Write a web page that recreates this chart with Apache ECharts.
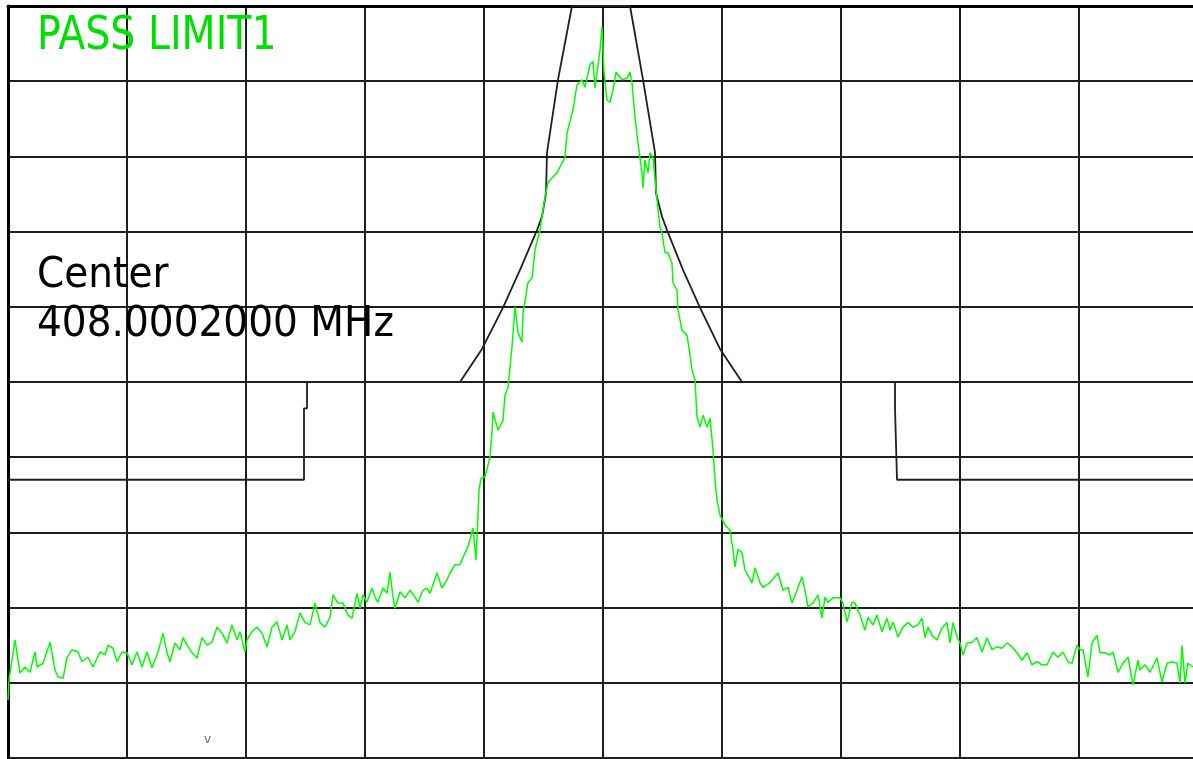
<!DOCTYPE html>
<html>
<head>
<meta charset="utf-8">
<title>PASS LIMIT1</title>
<script src="https://cdn.jsdelivr.net/npm/echarts@6/dist/echarts.min.js"></script>
<style>
html, body { margin: 0; padding: 0; background: #fff; }
#chart { width: 1193px; height: 759px; }
</style>
</head>
<body>
<div id="chart"></div>
<script>
// sweep points across the screen (119 points / div), level in dB (10 dB / div, ref 0 at top)
var traceBins = [0,1,7,12,17,22,27,29,35,42,47,50,55,59,64,70,74,80,85,92,97,100,105,109,114,119,124,129,134,139,144,150,155,159,162,167,172,175,180,184,189,194,199,204,209,214,219,224,229,232,237,239,244,249,254,259,264,269,274,279,282,287,292,297,302,307,312,317,322,325,330,335,340,344,349,352,355,359,364,367,370,375,379,382,385,387,392,397,402,407,410,415,419,422,429,434,439,442,447,452,455,460,465,468,471,473,477,482,484,485,490,495,497,500,504,507,510,514,515,520,524,527,532,537,540,545,549,557,559,565,569,574,577,582,585,587,592,594,595,596,599,602,605,608,614,619,622,624,627,630,634,635,637,640,642,645,649,652,654,657,660,664,665,669,670,674,679,682,684,687,689,692,695,699,702,705,707,709,712,717,722,725,727,730,734,737,744,747,752,755,762,770,775,780,784,789,794,797,800,805,810,814,817,820,825,832,835,839,844,847,852,857,860,865,869,874,879,882,885,890,895,900,905,910,914,917,920,924,929,934,939,942,945,949,952,955,959,964,969,974,979,984,989,994,999,1004,1009,1014,1019,1024,1029,1034,1039,1045,1050,1055,1060,1064,1069,1072,1075,1080,1084,1089,1092,1097,1102,1105,1110,1115,1120,1125,1130,1132,1137,1142,1149,1154,1159,1164,1169,1172,1174,1177,1180,1185];
var traceLevels = [-92.3,-89.6,-84.3,-88.7,-87.9,-88.6,-85.9,-87.9,-87.4,-84.6,-88.3,-89.2,-89.4,-86.7,-85.6,-85.9,-87.2,-86.6,-87.9,-85.9,-86.3,-85.0,-85.4,-87.2,-85.9,-86.0,-87.6,-85.9,-87.9,-85.9,-88.0,-85.9,-83.4,-86.0,-87.2,-84.7,-85.6,-84.0,-85.2,-86.0,-86.7,-84.0,-85.0,-84.6,-82.6,-83.4,-84.7,-82.3,-84.3,-83.2,-85.9,-84.3,-83.2,-82.6,-83.4,-85.2,-82.6,-81.9,-84.3,-82.3,-84.3,-83.2,-80.7,-82.0,-82.3,-79.4,-82.0,-82.6,-81.3,-78.3,-79.4,-79.4,-81.0,-81.4,-78.1,-80.1,-78.3,-79.3,-77.4,-78.6,-79.3,-77.4,-78.1,-75.3,-78.6,-80.1,-77.9,-78.7,-77.7,-78.6,-79.3,-77.7,-77.4,-78.1,-75.4,-77.4,-76.3,-75.4,-74.3,-74.3,-73.3,-71.9,-69.4,-73.7,-64.4,-62.8,-62.6,-60.0,-56.7,-54.0,-56.4,-55.1,-51.7,-50.8,-45.3,-40.0,-43.4,-44.7,-40.8,-36.8,-36.2,-32.4,-29.8,-25.4,-23.5,-22.7,-22.2,-20.1,-16.9,-13.8,-10.5,-9.8,-10.8,-7.8,-7.4,-10.9,-5.9,-2.8,-5.6,-8.8,-12.5,-12.8,-11.2,-8.8,-9.8,-9.6,-8.8,-10.2,-14.8,-18.2,-22.2,-24.2,-20.5,-22.2,-19.5,-20.2,-25.8,-29.4,-30.2,-32.8,-32.8,-34.2,-36.8,-37.8,-40.4,-43.1,-43.8,-46.4,-48.4,-49.7,-54.7,-56.0,-54.4,-56.0,-54.8,-59.0,-63.0,-65.7,-67.7,-69.0,-69.7,-72.3,-74.6,-72.3,-72.7,-75.0,-76.7,-74.7,-76.7,-77.3,-76.7,-75.4,-77.7,-77.3,-79.4,-77.7,-75.9,-77.7,-79.9,-79.4,-78.3,-81.4,-78.6,-79.3,-78.7,-78.7,-79.4,-81.9,-79.3,-79.4,-81.0,-83.0,-81.3,-82.3,-81.0,-83.2,-81.4,-83.0,-81.9,-83.9,-82.6,-82.0,-82.6,-82.3,-81.4,-84.0,-82.6,-83.7,-84.3,-82.7,-82.0,-84.7,-82.0,-83.9,-84.7,-86.3,-84.7,-84.6,-84.0,-85.9,-84.0,-85.6,-85.2,-85.4,-84.7,-85.2,-86.0,-87.0,-86.0,-87.6,-87.2,-87.6,-87.6,-85.9,-86.6,-85.9,-87.2,-87.4,-85.0,-85.6,-85.6,-89.2,-84.7,-83.7,-86.0,-86.0,-86.3,-85.9,-88.6,-87.4,-86.6,-90.3,-87.0,-88.3,-87.6,-88.6,-86.7,-89.9,-87.4,-87.2,-87.4,-90.0,-85.0,-90.0,-87.4,-87.9];

// limit line 1
var limitBins = [0,296,296,299,299,452,474,495,512,529,534,538,539,550,564,622,635,647,648,654,659,675,692,712,734,887,887,889,889,1185];
var limitLevels = [-63,-63,-53.5,-53.5,-50,-50,-45.6,-40.1,-35.1,-29.8,-28.0,-24.9,-19.5,-9.8,0,0,-9.8,-19.5,-24.9,-28.0,-29.8,-35.1,-40.1,-45.6,-50,-50,-53.5,-53.5,-63,-63];

var centerFreq = '408.0002000 MHz';

function zip(xs, ys) {
	var out = [];
	for (var i = 0; i < xs.length; i++) out.push([xs[i], ys[i]]);
	return out;
}

var myChart = echarts.init(document.getElementById('chart'));
var gridLine = { show: true, lineStyle: { color: '#1e1e1e', width: 2 } };

var option = {
	animation: false,
	backgroundColor: '#fff',
	grid: { left: 8, top: 6, right: 0, bottom: 1 },
	xAxis: [{
		type: 'value', min: 0, max: 1185, interval: 119,
		axisLine: { show: true, lineStyle: { color: '#0b3a3a', width: 2 } },
		axisTick: { show: false }, axisLabel: { show: false },
		splitLine: { show: true, showMaxLine: false, lineStyle: { color: '#1e1e1e', width: 2 } }
	}, {
		type: 'value', position: 'top', min: 0, max: 1185,
		axisLine: { show: true, onZero: false, lineStyle: { color: '#000', width: 3 } },
		axisTick: { show: false }, axisLabel: { show: false }, splitLine: { show: false }
	}],
	yAxis: {
		type: 'value', min: -100, max: 0, interval: 10,
		axisLine: { show: true, lineStyle: { color: '#000', width: 3 } },
		axisTick: { show: false }, axisLabel: { show: false },
		splitLine: gridLine
	},
	series: [{
		name: 'LIMIT1', type: 'line', showSymbol: false,
		data: zip(limitBins, limitLevels),
		lineStyle: { color: '#202020', width: 1.8 },
		z: 3
	}, {
		name: 'Trace', type: 'line', showSymbol: false,
		data: zip(traceBins, traceLevels),
		lineStyle: { color: '#00ff00', width: 1.5 },
		z: 4
	}],
	graphic: [{
		type: 'text', left: 37, top: 13, scaleX: 0.84, z: 10,
		style: { text: 'PASS LIMIT1', fill: '#00e000', font: '47px "DejaVu Sans"' }
	}, {
		type: 'text', left: 37, top: 255, scaleX: 0.93, z: 10,
		style: { text: 'Center', fill: '#000', font: '42px "DejaVu Sans"' }
	}, {
		type: 'text', left: 37, top: 304, scaleX: 0.93, z: 10,
		style: { text: centerFreq, fill: '#000', font: '42px "DejaVu Sans"' }
	}, {
		type: 'text', left: 204, top: 734, z: 10,
		style: { text: 'v', fill: '#666', font: '12px "DejaVu Sans"' }
	}]
};
myChart.setOption(option);
</script>
</body>
</html>
